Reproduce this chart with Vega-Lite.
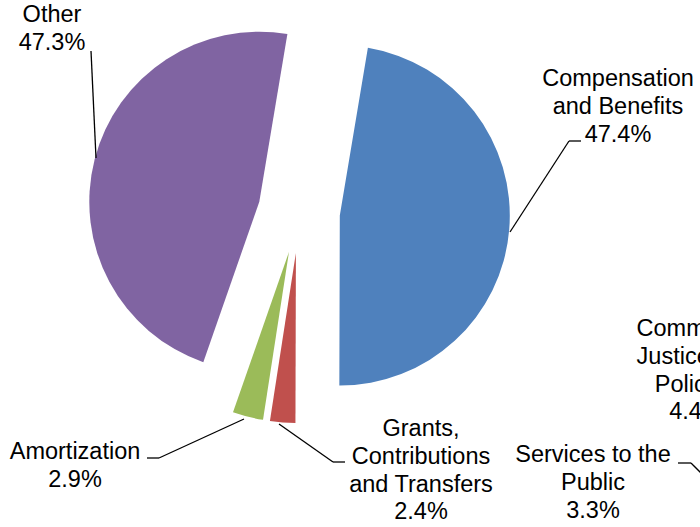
{
  "$schema": "https://vega.github.io/schema/vega-lite/v6.json",
  "width": 598,
  "height": 424,
  "autosize": {"type": "none"},
  "padding": {"left": 0, "top": 0, "right": 102, "bottom": 103},
  "background": "white",
  "config": {
    "view": {"stroke": null},
    "text": {"font": "Liberation Sans", "fontSize": 23.5, "color": "#000000", "align": "center", "baseline": "alphabetic", "lineBreak": "\n", "lineHeight": 27.8},
    "rule": {"color": "#000000", "strokeWidth": 1.3}
  },
  "datasets": {
    "slices": [
      {"category": "Compensation and Benefits", "label": "Compensation\nand Benefits", "value": 47.4, "order": 1},
      {"category": "Grants, Contributions and Transfers", "label": "Grants,\nContributions\nand Transfers", "value": 2.4, "order": 2},
      {"category": "Amortization", "label": "Amortization", "value": 2.9, "order": 3},
      {"category": "Other", "label": "Other", "value": 47.3, "order": 4}
    ],
    "neighbour": [
      {"category": "Community Justice and Policing", "label": "Community\nJustice and\nPolicing", "value": 4.4},
      {"category": "Services to the Public", "label": "Services to the\nPublic", "value": 3.3}
    ]
  },
  "layer": [
    {
      "data": {"name": "slices"},
      "transform": [
        {"stack": "value", "groupby": [], "sort": [{"field": "order", "order": "ascending"}], "as": ["v0", "v1"]},
        {"filter": "datum.category === 'Compensation and Benefits'"}
      ],
      "mark": {"type": "arc", "outerRadius": 170, "xOffset": 40.8, "yOffset": 3.5},
      "encoding": {
        "theta": {"field": "v0", "type": "quantitative", "scale": {"domain": [0, 100], "range": [0.166, 6.4492]}},
        "theta2": {"field": "v1"},
        "color": {"field": "category", "type": "nominal", "legend": null,
          "scale": {"domain": ["Compensation and Benefits", "Grants, Contributions and Transfers", "Amortization", "Other"], "range": ["#4F81BD", "#C0504D", "#9BBB59", "#8064A2"]}}
      }
    },
    {
      "data": {"name": "slices"},
      "transform": [
        {"stack": "value", "groupby": [], "sort": [{"field": "order", "order": "ascending"}], "as": ["v0", "v1"]},
        {"filter": "datum.category === 'Grants, Contributions and Transfers'"}
      ],
      "mark": {"type": "arc", "outerRadius": 170, "xOffset": -3.1, "yOffset": 40.9},
      "encoding": {
        "theta": {"field": "v0", "type": "quantitative"},
        "theta2": {"field": "v1"},
        "color": {"field": "category", "type": "nominal", "legend": null}
      }
    },
    {
      "data": {"name": "slices"},
      "transform": [
        {"stack": "value", "groupby": [], "sort": [{"field": "order", "order": "ascending"}], "as": ["v0", "v1"]},
        {"filter": "datum.category === 'Amortization'"}
      ],
      "mark": {"type": "arc", "outerRadius": 170, "xOffset": -10.0, "yOffset": 39.8},
      "encoding": {
        "theta": {"field": "v0", "type": "quantitative"},
        "theta2": {"field": "v1"},
        "color": {"field": "category", "type": "nominal", "legend": null}
      }
    },
    {
      "data": {"name": "slices"},
      "transform": [
        {"stack": "value", "groupby": [], "sort": [{"field": "order", "order": "ascending"}], "as": ["v0", "v1"]},
        {"filter": "datum.category === 'Other'"}
      ],
      "mark": {"type": "arc", "outerRadius": 170, "xOffset": -39.7, "yOffset": -10.3},
      "encoding": {
        "theta": {"field": "v0", "type": "quantitative"},
        "theta2": {"field": "v1"},
        "color": {"field": "category", "type": "nominal", "legend": null}
      }
    },
    {
      "data": {"name": "slices"},
      "transform": [
        {"filter": "datum.category === 'Other'"},
        {"calculate": "datum.label + '\\n' + format(datum.value, '.1f') + '%'", "as": "text"}
      ],
      "mark": {"type": "text", "x": 52, "y": 22},
      "encoding": {"text": {"field": "text"}}
    },
    {
      "data": {"name": "slices"},
      "transform": [
        {"filter": "datum.category === 'Compensation and Benefits'"},
        {"calculate": "datum.label + '\\n' + format(datum.value, '.1f') + '%'", "as": "text"}
      ],
      "mark": {"type": "text", "x": 618, "y": 86},
      "encoding": {"text": {"field": "text"}}
    },
    {
      "data": {"name": "slices"},
      "transform": [
        {"filter": "datum.category === 'Amortization'"},
        {"calculate": "datum.label + '\\n' + format(datum.value, '.1f') + '%'", "as": "text"}
      ],
      "mark": {"type": "text", "x": 75, "y": 459},
      "encoding": {"text": {"field": "text"}}
    },
    {
      "data": {"name": "slices"},
      "transform": [
        {"filter": "datum.category === 'Grants, Contributions and Transfers'"},
        {"calculate": "datum.label + '\\n' + format(datum.value, '.1f') + '%'", "as": "text"}
      ],
      "mark": {"type": "text", "x": 421, "y": 436},
      "encoding": {"text": {"field": "text"}}
    },
    {
      "data": {"name": "neighbour"},
      "transform": [
        {"filter": "datum.category === 'Services to the Public'"},
        {"calculate": "datum.label + '\\n' + format(datum.value, '.1f') + '%'", "as": "text"}
      ],
      "mark": {"type": "text", "x": 593, "y": 462},
      "encoding": {"text": {"field": "text"}}
    },
    {
      "data": {"name": "neighbour"},
      "transform": [
        {"filter": "datum.category === 'Community Justice and Policing'"},
        {"calculate": "datum.label + '\\n' + format(datum.value, '.1f') + '%'", "as": "text"}
      ],
      "mark": {"type": "text", "x": 696, "y": 336},
      "encoding": {"text": {"field": "text"}}
    },
    {
      "data": {"name": "slices"},
      "transform": [{"filter": "datum.category === 'Other'"}],
      "mark": {"type": "rule"},
      "encoding": {"x": {"value": 91}, "y": {"value": 51}, "x2": {"value": 96}, "y2": {"value": 158}}
    },
    {
      "data": {"name": "slices"},
      "transform": [{"filter": "datum.category === 'Compensation and Benefits'"}],
      "layer": [
        {"mark": {"type": "rule"}, "encoding": {"x": {"value": 581}, "y": {"value": 141}, "x2": {"value": 569}, "y2": {"value": 141}}},
        {"mark": {"type": "rule"}, "encoding": {"x": {"value": 569}, "y": {"value": 141}, "x2": {"value": 510}, "y2": {"value": 232}}}
      ]
    },
    {
      "data": {"name": "slices"},
      "transform": [{"filter": "datum.category === 'Amortization'"}],
      "layer": [
        {"mark": {"type": "rule"}, "encoding": {"x": {"value": 147}, "y": {"value": 458}, "x2": {"value": 159}, "y2": {"value": 458}}},
        {"mark": {"type": "rule"}, "encoding": {"x": {"value": 159}, "y": {"value": 458}, "x2": {"value": 244}, "y2": {"value": 419}}}
      ]
    },
    {
      "data": {"name": "slices"},
      "transform": [{"filter": "datum.category === 'Grants, Contributions and Transfers'"}],
      "layer": [
        {"mark": {"type": "rule"}, "encoding": {"x": {"value": 279}, "y": {"value": 424}, "x2": {"value": 333}, "y2": {"value": 462}}},
        {"mark": {"type": "rule"}, "encoding": {"x": {"value": 333}, "y": {"value": 462}, "x2": {"value": 345}, "y2": {"value": 462}}}
      ]
    },
    {
      "data": {"name": "neighbour"},
      "transform": [{"filter": "datum.category === 'Services to the Public'"}],
      "layer": [
        {"mark": {"type": "rule"}, "encoding": {"x": {"value": 678}, "y": {"value": 463}, "x2": {"value": 691}, "y2": {"value": 463}}},
        {"mark": {"type": "rule"}, "encoding": {"x": {"value": 691}, "y": {"value": 463}, "x2": {"value": 706}, "y2": {"value": 478}}}
      ]
    }
  ]
}
